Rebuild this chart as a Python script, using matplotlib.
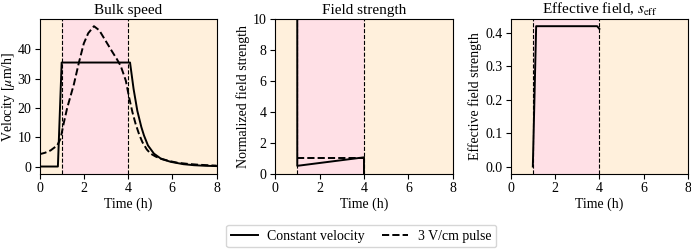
import numpy as np
import matplotlib
matplotlib.use("Agg")
import matplotlib.pyplot as plt

plt.rcParams['font.family'] = ['Liberation Serif', 'DejaVu Serif']
plt.rcParams['mathtext.fontset'] = 'stix'

# --- data ---
t_bulk_const = [0, 0.83, 1.0, 4.09, 4.25, 4.42, 4.6, 4.72, 4.9, 5.17, 5.5, 5.93, 6.5, 6.98, 7.5, 8.0]
v_bulk_const = [0, 0, 35.5, 35.5, 26.5, 19.0, 13.5, 10.6, 7.2, 4.4, 2.6, 1.6, 0.8, 0.45, 0.25, 0.15]

t_bulk_pulse = [0, 0.25, 0.5, 0.8, 0.95, 1.1, 1.25, 1.4, 1.55, 1.78, 2.0, 2.2, 2.46, 2.7,
                3.06, 3.3, 3.5, 3.67, 3.8, 3.9, 4.05, 4.2, 4.34, 4.5, 4.65, 4.85, 5.02,
                5.25, 5.48, 5.85, 6.23, 6.7, 7.2, 7.6, 8.0]
v_bulk_pulse = [4.2, 4.7, 5.5, 7.2, 9.5, 15.0, 20.0, 24.0, 28.0, 35.5, 42.0, 45.5, 47.9, 46.5,
                42.0, 39.0, 36.6, 34.3, 31.5, 29.3, 23.5, 18.5, 14.6, 11.0, 8.3, 5.8, 4.4,
                3.4, 2.7, 1.9, 1.3, 0.9, 0.6, 0.45, 0.3]

t_field_const = [1.0, 1.0, 4.0, 4.0]
s_field_const = [40.0, 0.5, 1.05, 0]

t_field_pulse = [1.0, 4.0]
s_field_pulse = [1.0, 1.0]

t_eff = [1.0, 1.15, 3.9, 4.0]
s_eff = [0, 0.42, 0.42, 0.412]

pulse_on, pulse_off = 1.0, 4.0

beige = '#fff0dc'
pink = '#ffe0e6'

fig = plt.figure(figsize=(6.91, 2.49), dpi=100)
b, h = 0.303, 0.620
ax1 = fig.add_axes([0.0572, b, 0.2562, h])
ax2 = fig.add_axes([0.398, b, 0.2575, h])
ax3 = fig.add_axes([0.739, b, 0.2568, h])

for ax in (ax1, ax2, ax3):
    ax.set_facecolor(beige)
    ax.axvspan(pulse_on, pulse_off, color=pink, lw=0, zorder=0)
    ax.axvline(pulse_on, color='k', ls='--', lw=0.8, zorder=1)
    ax.axvline(pulse_off, color='k', ls='--', lw=0.8, zorder=1)
    ax.set_xlim(0, 8)
    ax.set_xticks([0, 2, 4, 6, 8])
    ax.set_xlabel('Time (h)', fontsize=10, labelpad=2)
    ax.tick_params(labelsize=10, length=3.5, width=0.8, pad=2.5)
    for sp in ax.spines.values():
        sp.set_linewidth(0.8)

l1, = ax1.plot(t_bulk_const, v_bulk_const, 'k-', lw=1.4, zorder=3)
l2, = ax1.plot(t_bulk_pulse, v_bulk_pulse, 'k--', lw=1.4, zorder=3)
ax1.set_ylim(-2.4, 50.3)
ax1.set_yticks([0, 10, 20, 30, 40])
ax1.set_ylabel(r'Velocity [$\mu$m/h]', fontsize=10, labelpad=0.5)
ax1.set_title('Bulk speed', fontsize=11, pad=4)

ax2.plot(t_field_const, s_field_const, 'k-', lw=1.4, zorder=3)
ax2.plot(t_field_pulse, s_field_pulse, 'k--', lw=1.4, zorder=3)
ax2.set_ylim(0, 10)
ax2.set_ylabel('Normalized field strength', fontsize=10, labelpad=2)
ax2.set_title('Field strength', fontsize=11, pad=4)

ax3.plot(t_eff, s_eff, 'k-', lw=1.4, zorder=3)
ax3.set_ylim(-0.021, 0.441)
ax3.set_yticks([0.0, 0.1, 0.2, 0.3, 0.4])
ax3.set_ylabel('Effective field strength', fontsize=10, labelpad=2)
ax3.set_title(r'Effective field, $s_{\mathrm{eff}}$', fontsize=11, pad=4)

fig.legend([l1, l2], ['Constant velocity', '3 V/cm pulse'], loc='center',
           bbox_to_anchor=(0.523, 0.052), ncol=2, fontsize=10, columnspacing=1.2,
           handlelength=1.9, handletextpad=0.7, borderpad=0.35)

fig.savefig('out.png', dpi=100)
